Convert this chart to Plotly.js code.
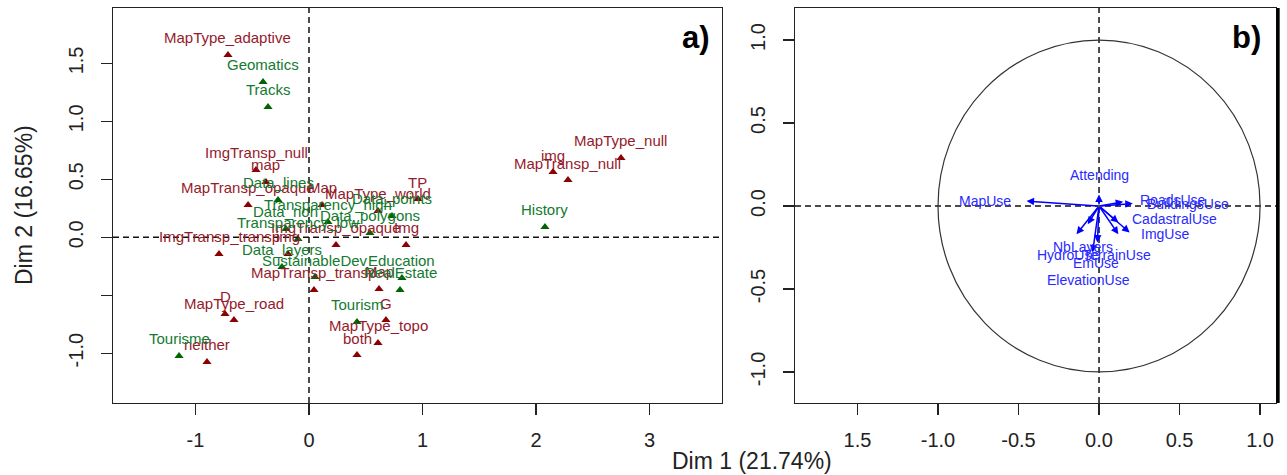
<!DOCTYPE html>
<html>
<head>
<meta charset="utf-8">
<script src="https://cdn.plot.ly/plotly-3.0.1.min.js"></script>
<style>html,body{margin:0;padding:0;background:#fff;}#chart{width:1287px;height:475px;}</style>
</head>
<body>
<div id="chart"></div>
<script>
// ---------- Panel a) : MCA categories ----------
const redLabels = ["MapType_adaptive","ImgTransp_null","map","MapTransp_opaque","Map","MapType_world","TP",
  "ImgTransp_opaque","Img","ImgTransp_transp","img","MapTransp_transp","Map","D","MapType_road","neither",
  "G","MapType_topo","both","img","MapTransp_null","MapType_null"];
const redDim1 = [-0.714,-0.467,-0.379,-0.537,0.115,0.608,0.960,0.238,0.855,-0.793,-0.185,0.044,0.617,-0.740,-0.661,-0.899,0.678,0.608,0.423,2.150,2.282,2.749];
const redDim2 = [1.573,0.581,0.477,0.279,0.279,0.227,0.330,-0.066,-0.066,-0.144,-0.144,-0.455,-0.446,-0.662,-0.714,-1.076,-0.714,-0.912,-1.016,0.563,0.494,0.684];

const greenLabels = ["Geomatics","Tracks","Data_lines","Transparency_high","Data_points","Data_non","Data_polygons",
  "Transparency_low","History","Data_layers","SustainableDev","Education","RealEstate","Tourism","Tourisme"];
const greenDim1 = [-0.405,-0.361,-0.273,0.167,0.731,-0.203,0.537,-0.097,2.079,-0.238,0.053,0.819,0.802,0.423,-1.145];
const greenDim2 = [1.340,1.124,0.322,0.132,0.184,0.072,0.037,-0.015,0.089,-0.256,-0.343,-0.351,-0.455,-0.731,-1.024];

// ---------- Panel b) : supplementary quantitative variables ----------
const varNames = ["MapUse","Attending","RoadsUse","BuildingsUse","CadastralUse","ImgUse","TerrainUse","NbLayers","HydroUse","EmUse","ElevationUse"];
const varDim1 = [-0.45,0.00,0.21,0.15,0.12,0.19,0.12,-0.07,-0.14,-0.01,-0.04];
const varDim2 = [0.03,0.07,0.015,0.025,-0.10,-0.16,-0.17,-0.11,-0.17,-0.22,-0.28];
const varLabelX = [-0.71,0.0,0.46,0.55,0.47,0.41,0.11,-0.10,-0.19,-0.02,-0.065];
const varLabelY = [0.03,0.185,0.035,0.012,-0.077,-0.166,-0.296,-0.245,-0.296,-0.345,-0.445];

// tick labels
const aXTicks = [-1,0,1,2,3];
const aXTickText = ["-1","0","1","2","3"];
const aYTicks = [-1,-0.5,0,0.5,1,1.5];
const aYTickText = ["-1.0","","0.0","0.5","1.0","1.5"];
const bXTicks = [-1.5,-1,-0.5,0,0.5,1];
const bXTickText = ["1.5","-1.0","-0.5","0.0","0.5","1.0"];
const bYTicks = [-1,-0.5,0,0.5,1];
const bYTickText = ["-1.0","-0.5","0.0","0.5","1.0"];

const FONT = "Liberation Sans, Arial, sans-serif";
const RED = "#8B0000", GREEN = "#006400";
const RED_TXT = "#951a2c", GREEN_TXT = "#137a30";
const BLUE = "#0000FF", BLUE_TXT = "#2a2aff";

const W = 1287, H = 475;
const px = v => v / W, py = v => 1 - v / H;

const traces = [
  {type:"scatter", mode:"markers", x:redDim1, y:redDim2, xaxis:"x", yaxis:"y",
   marker:{symbol:"triangle-up", size:8, color:RED}, hoverinfo:"skip"},
  {type:"scatter", mode:"markers", x:greenDim1, y:greenDim2, xaxis:"x", yaxis:"y",
   marker:{symbol:"triangle-up", size:8, color:GREEN}, hoverinfo:"skip"},
  {type:"scatter", mode:"markers", x:[0], y:[0], xaxis:"x2", yaxis:"y2",
   marker:{size:1, color:"rgba(0,0,0,0)"}, hoverinfo:"skip"}
];

const annotations = [];
redLabels.forEach((t,i)=>annotations.push({x:redDim1[i], y:redDim2[i], xref:"x", yref:"y", text:t, showarrow:false,
  yshift:17, xanchor:"center", yanchor:"middle", font:{family:FONT, size:15, color:RED_TXT}}));
greenLabels.forEach((t,i)=>annotations.push({x:greenDim1[i], y:greenDim2[i], xref:"x", yref:"y", text:t, showarrow:false,
  yshift:17, xanchor:"center", yanchor:"middle", font:{family:FONT, size:15, color:GREEN_TXT}}));
// arrows for panel b
varNames.forEach((t,i)=>annotations.push({x:varDim1[i], y:varDim2[i], xref:"x2", yref:"y2", ax:0, ay:0, axref:"x2", ayref:"y2",
  text:"", showarrow:true, arrowhead:2, arrowsize:1, arrowwidth:1.5, arrowcolor:BLUE}));
varNames.forEach((t,i)=>annotations.push({x:varLabelX[i], y:varLabelY[i], xref:"x2", yref:"y2", text:t, showarrow:false,
  xanchor:"center", yanchor:"middle", font:{family:FONT, size:14, color:BLUE_TXT}}));
// panel tags and axis titles
annotations.push({x:px(696), y:py(38), xref:"paper", yref:"paper", text:"<b>a)</b>", showarrow:false,
  xanchor:"center", yanchor:"middle", font:{family:FONT, size:31, color:"#000"}});
annotations.push({x:px(1246), y:py(38), xref:"paper", yref:"paper", text:"<b>b)</b>", showarrow:false,
  xanchor:"center", yanchor:"middle", font:{family:FONT, size:31, color:"#000"}});
annotations.push({x:px(24), y:py(205), xref:"paper", yref:"paper", text:"Dim 2 (16.65%)", showarrow:false, textangle:-90,
  xanchor:"center", yanchor:"middle", font:{family:FONT, size:23, color:"#222"}});
annotations.push({x:px(752), y:py(461), xref:"paper", yref:"paper", text:"Dim 1 (21.74%)", showarrow:false,
  xanchor:"center", yanchor:"middle", font:{family:FONT, size:23, color:"#222"}});

const dashLine = {color:"#111", width:1.5, dash:"6px,4px"};
const shapes = [
  {type:"line", xref:"x", yref:"y domain", x0:0, x1:0, y0:0, y1:1, line:dashLine},
  {type:"line", xref:"x domain", yref:"y", x0:0, x1:1, y0:0, y1:0, line:dashLine},
  {type:"line", xref:"x2", yref:"y2 domain", x0:0, x1:0, y0:0, y1:1, line:dashLine},
  {type:"line", xref:"x2 domain", yref:"y2", x0:0, x1:1, y0:0, y1:0, line:dashLine},
  {type:"circle", xref:"x2", yref:"y2", x0:-1, x1:1, y0:-1, y1:1, line:{color:"#333", width:1.2}},
  {type:"line", xref:"x2 domain", yref:"y2 domain", x0:1.004, x1:1.004, y0:0, y1:1, line:{color:"#000", width:3.5}}
];

const axisCommon = {showgrid:false, zeroline:false, showline:true, mirror:true, linecolor:"#222", linewidth:1.3,
  ticks:"outside", ticklen:11, tickwidth:1.3, tickcolor:"#222", tickmode:"array",
  tickfont:{family:FONT, size:20, color:"#222"}, fixedrange:true};

const layout = {
  width:W, height:H, margin:{l:0,r:0,t:0,b:0}, paper_bgcolor:"#fff", plot_bgcolor:"#fff", showlegend:false,
  xaxis:Object.assign({}, axisCommon, {domain:[px(113), px(722)], range:[-1.727,3.639], anchor:"y",
    tickvals:aXTicks, ticktext:aXTickText, ticklabelstandoff:8}),
  yaxis:Object.assign({}, axisCommon, {domain:[1-403/H, 1-8/H], range:[-1.430,1.978], anchor:"x",
    tickvals:aYTicks, ticktext:aYTickText, tickangle:-90, ticklabelstandoff:10}),
  xaxis2:Object.assign({}, axisCommon, {domain:[px(795), px(1276)], range:[-1.888,1.099], anchor:"y2",
    tickvals:bXTicks, ticktext:bXTickText, ticklabelstandoff:8}),
  yaxis2:Object.assign({}, axisCommon, {domain:[1-403/H, 1-8/H], range:[-1.187,1.193], anchor:"x2",
    tickvals:bYTicks, ticktext:bYTickText, tickangle:-90, ticklabelstandoff:10}),
  annotations:annotations, shapes:shapes
};

Plotly.newPlot("chart", traces, layout, {staticPlot:true, displayModeBar:false});
</script>
</body>
</html>
